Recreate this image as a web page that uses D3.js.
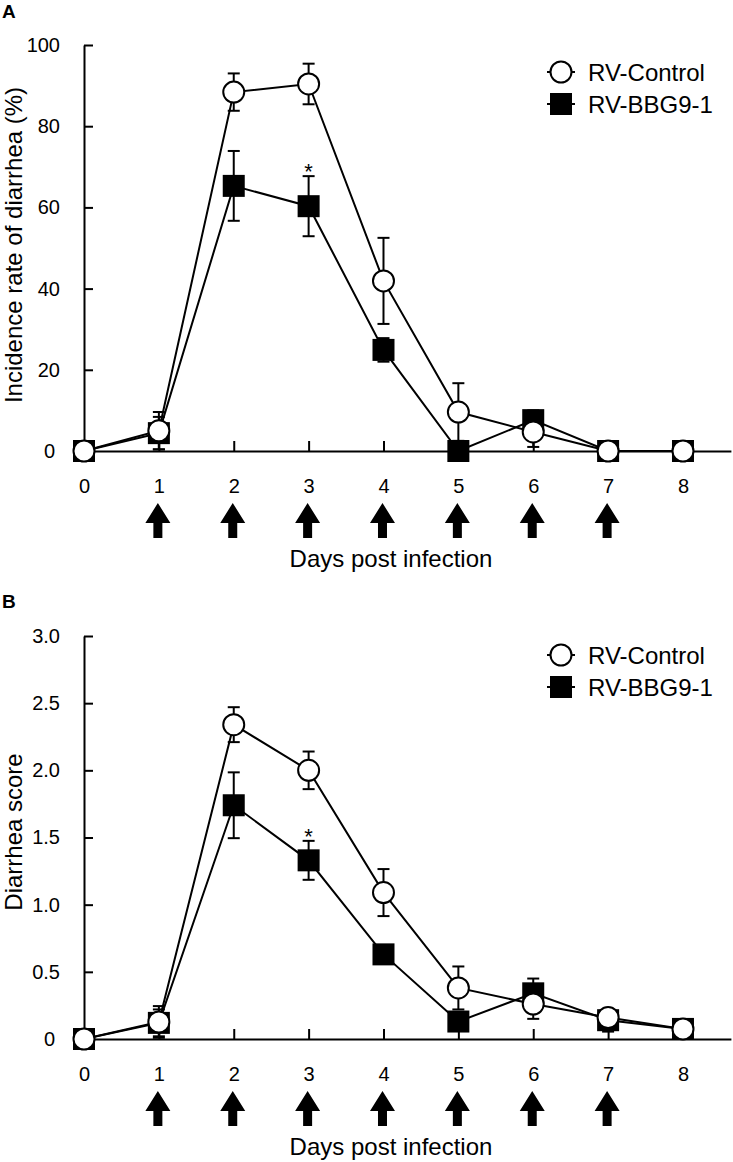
<!DOCTYPE html>
<html>
<head>
<meta charset="utf-8">
<script src="https://cdn.jsdelivr.net/npm/d3@7"></script>
<style>
  html, body { margin: 0; padding: 0; background: #fff; }
  svg { display: block; }
  text { font-family: "Liberation Sans", Arial, Helvetica, sans-serif; fill: #000; }
</style>
</head>
<body>
<svg id="chart" width="733" height="1162"></svg>
<script>
// ---------------- data ----------------
const days = [0, 1, 2, 3, 4, 5, 6, 7, 8];
const doseDays = [1, 2, 3, 4, 5, 6, 7];
const seriesNames = ["RV-Control", "RV-BBG9-1"];

// Panel A: incidence rate of diarrhea (%)
const incControl   = [0, 5.0, 88.4, 90.4, 41.9, 9.6, 4.7, 0, 0];
const incControlSD = [0, 4.6, 4.6, 5.0, 10.6, 7.1, 3.7, 0, 0];
const incBBG       = [0, 4.4, 65.3, 60.3, 24.9, 0, 7.6, 0, 0];
const incBBGSD     = [0, 4.0, 8.6, 7.4, 2.9, 0, 2.4, 0, 0];
const incSigDays   = [3];
const yTicksA      = [0, 20, 40, 60, 80, 100];

// Panel B: diarrhea score
const scoreControl   = [0, 0.127, 2.34, 2.00, 1.09, 0.38, 0.26, 0.16, 0.075];
const scoreControlSD = [0, 0.118, 0.13, 0.14, 0.175, 0.16, 0.11, 0.03, 0];
const scoreBBG       = [0, 0.12, 1.74, 1.33, 0.63, 0.13, 0.34, 0.14, 0.075];
const scoreBBGSD     = [0, 0.10, 0.245, 0.145, 0.03, 0.05, 0.11, 0.085, 0];
const scoreSigDays   = [3];
const yTicksB        = [0, 0.5, 1.0, 1.5, 2.0, 2.5, 3.0];

// ---------------- drawing ----------------
const svg = d3.select("#chart");

function drawPanel(cfg) {
  const g = svg.append("g");
  const x = d3.scaleLinear().domain([0, 8.64]).range([84, 730.9]);
  const y = d3.scaleLinear().domain(cfg.yDomain).range([cfg.yBottom, cfg.yTop]);

  // panel letter
  g.append("text").attr("x", 2).attr("y", cfg.letterY)
    .attr("font-size", 19).attr("font-weight", "bold").text(cfg.letter);

  // y axis
  const yAxis = g.append("g").attr("transform", "translate(84,0)")
    .call(d3.axisLeft(y).tickValues(cfg.yTicks).tickSize(-9).tickSizeOuter(0)
      .tickPadding(24).tickFormat(cfg.yFormat));
  yAxis.selectAll("path, line").attr("stroke", "#000").attr("stroke-width", 2);
  yAxis.selectAll("text").attr("font-size", 20).attr("fill", "#000")
    .attr("font-family", "Liberation Sans, Arial, sans-serif")
    .attr("dx", d => d === 0 ? -5 : 0);

  // x axis
  const xAxis = g.append("g").attr("transform", `translate(0,${cfg.yBottom})`)
    .call(d3.axisBottom(x).tickValues(days).tickSize(-10).tickSizeOuter(0)
      .tickPadding(28).tickFormat(d3.format("d")));
  xAxis.selectAll("path, line").attr("stroke", "#000").attr("stroke-width", 2);
  xAxis.selectAll("text").attr("font-size", 20).attr("fill", "#000")
    .attr("font-family", "Liberation Sans, Arial, sans-serif");

  // axis titles
  g.append("text")
    .attr("transform", `translate(22,${cfg.yLabelY}) rotate(-90)`)
    .attr("text-anchor", "middle").attr("font-size", 24).text(cfg.yLabel);
  g.append("text").attr("x", 391).attr("y", cfg.yBottom + 116)
    .attr("text-anchor", "middle").attr("font-size", 24).text("Days post infection");

  // dosing arrows
  const tip = cfg.yBottom + 52, base = tip + 20, end = tip + 35;
  g.selectAll(".arrow").data(doseDays).join("path")
    .attr("class", "arrow")
    .attr("d", d => {
      const cx = x(d) - 1;
      return `M${cx},${tip} L${cx + 12.5},${base} L${cx + 4.5},${base} L${cx + 4.5},${end}` +
             ` L${cx - 4.5},${end} L${cx - 4.5},${base} L${cx - 12.5},${base} Z`;
    })
    .attr("fill", "#000");

  const line = d3.line().x(d => x(d.day)).y(d => y(d.v));
  const mk = (vals, sds) => days.map((d, i) => ({ day: d, v: vals[i], sd: sds[i] }));
  const bbg = mk(cfg.bbg, cfg.bbgSD);
  const ctl = mk(cfg.ctl, cfg.ctlSD);

  function errorBars(data) {
    const eb = g.append("g").attr("stroke", "#000").attr("stroke-width", 2);
    data.filter(d => d.sd > 0).forEach(d => {
      const cx = x(d.day);
      const lo = Math.max(0, d.v - d.sd), hi = d.v + d.sd;
      eb.append("line").attr("x1", cx).attr("x2", cx).attr("y1", y(lo)).attr("y2", y(hi));
      eb.append("line").attr("x1", cx - 6).attr("x2", cx + 6).attr("y1", y(hi)).attr("y2", y(hi));
      if (d.v - d.sd > 0)
        eb.append("line").attr("x1", cx - 6).attr("x2", cx + 6).attr("y1", y(lo)).attr("y2", y(lo));
    });
  }

  // BBG series (squares)
  errorBars(bbg);
  g.append("path").datum(bbg).attr("d", line)
    .attr("fill", "none").attr("stroke", "#000").attr("stroke-width", 2);
  // Control series line + error bars
  errorBars(ctl);
  g.append("path").datum(ctl).attr("d", line)
    .attr("fill", "none").attr("stroke", "#000").attr("stroke-width", 2);
  g.selectAll(".sq").data(bbg).join("rect").attr("class", "sq")
    .attr("x", d => x(d.day) - 11).attr("y", d => y(d.v) - 11)
    .attr("width", 22).attr("height", 22).attr("fill", "#000");
  g.selectAll(".ci").data(ctl).join("circle").attr("class", "ci")
    .attr("cx", d => x(d.day)).attr("cy", d => y(d.v)).attr("r", 10.5)
    .attr("fill", "#fff").attr("stroke", "#000").attr("stroke-width", 2);

  // significance
  g.selectAll(".sig").data(cfg.sig).join("text").attr("class", "sig")
    .attr("x", d => x(d)).attr("y", d => y(cfg.bbg[d] + cfg.bbgSD[d]) + 3)
    .attr("text-anchor", "middle").attr("font-size", 22).text("*");

  // legend
  const lg = g.append("g");
  const rows = [cfg.legendY, cfg.legendY + 32];
  rows.forEach((ry, i) => {
    lg.append("line").attr("x1", 547).attr("x2", 575).attr("y1", ry).attr("y2", ry)
      .attr("stroke", "#000").attr("stroke-width", 2);
    if (i === 0) {
      lg.append("circle").attr("cx", 561).attr("cy", ry).attr("r", 10.5)
        .attr("fill", "#fff").attr("stroke", "#000").attr("stroke-width", 2);
    } else {
      lg.append("rect").attr("x", 550).attr("y", ry - 11).attr("width", 22).attr("height", 22)
        .attr("fill", "#000");
    }
    lg.append("text").attr("x", 588).attr("y", ry + 8.5).attr("font-size", 24).text(seriesNames[i]);
  });
}

drawPanel({
  letter: "A", letterY: 18,
  yDomain: [0, 100], yBottom: 451, yTop: 45, yTicks: yTicksA,
  yFormat: d3.format("d"), yLabel: "Incidence rate of diarrhea (%)", yLabelY: 245,
  ctl: incControl, ctlSD: incControlSD, bbg: incBBG, bbgSD: incBBGSD,
  sig: incSigDays, legendY: 72
});

drawPanel({
  letter: "B", letterY: 608,
  yDomain: [0, 3], yBottom: 1039, yTop: 636, yTicks: yTicksB,
  yFormat: d => d === 0 ? "0" : d3.format(".1f")(d), yLabel: "Diarrhea score", yLabelY: 832,
  ctl: scoreControl, ctlSD: scoreControlSD, bbg: scoreBBG, bbgSD: scoreBBGSD,
  sig: scoreSigDays, legendY: 655
});
</script>
</body>
</html>
